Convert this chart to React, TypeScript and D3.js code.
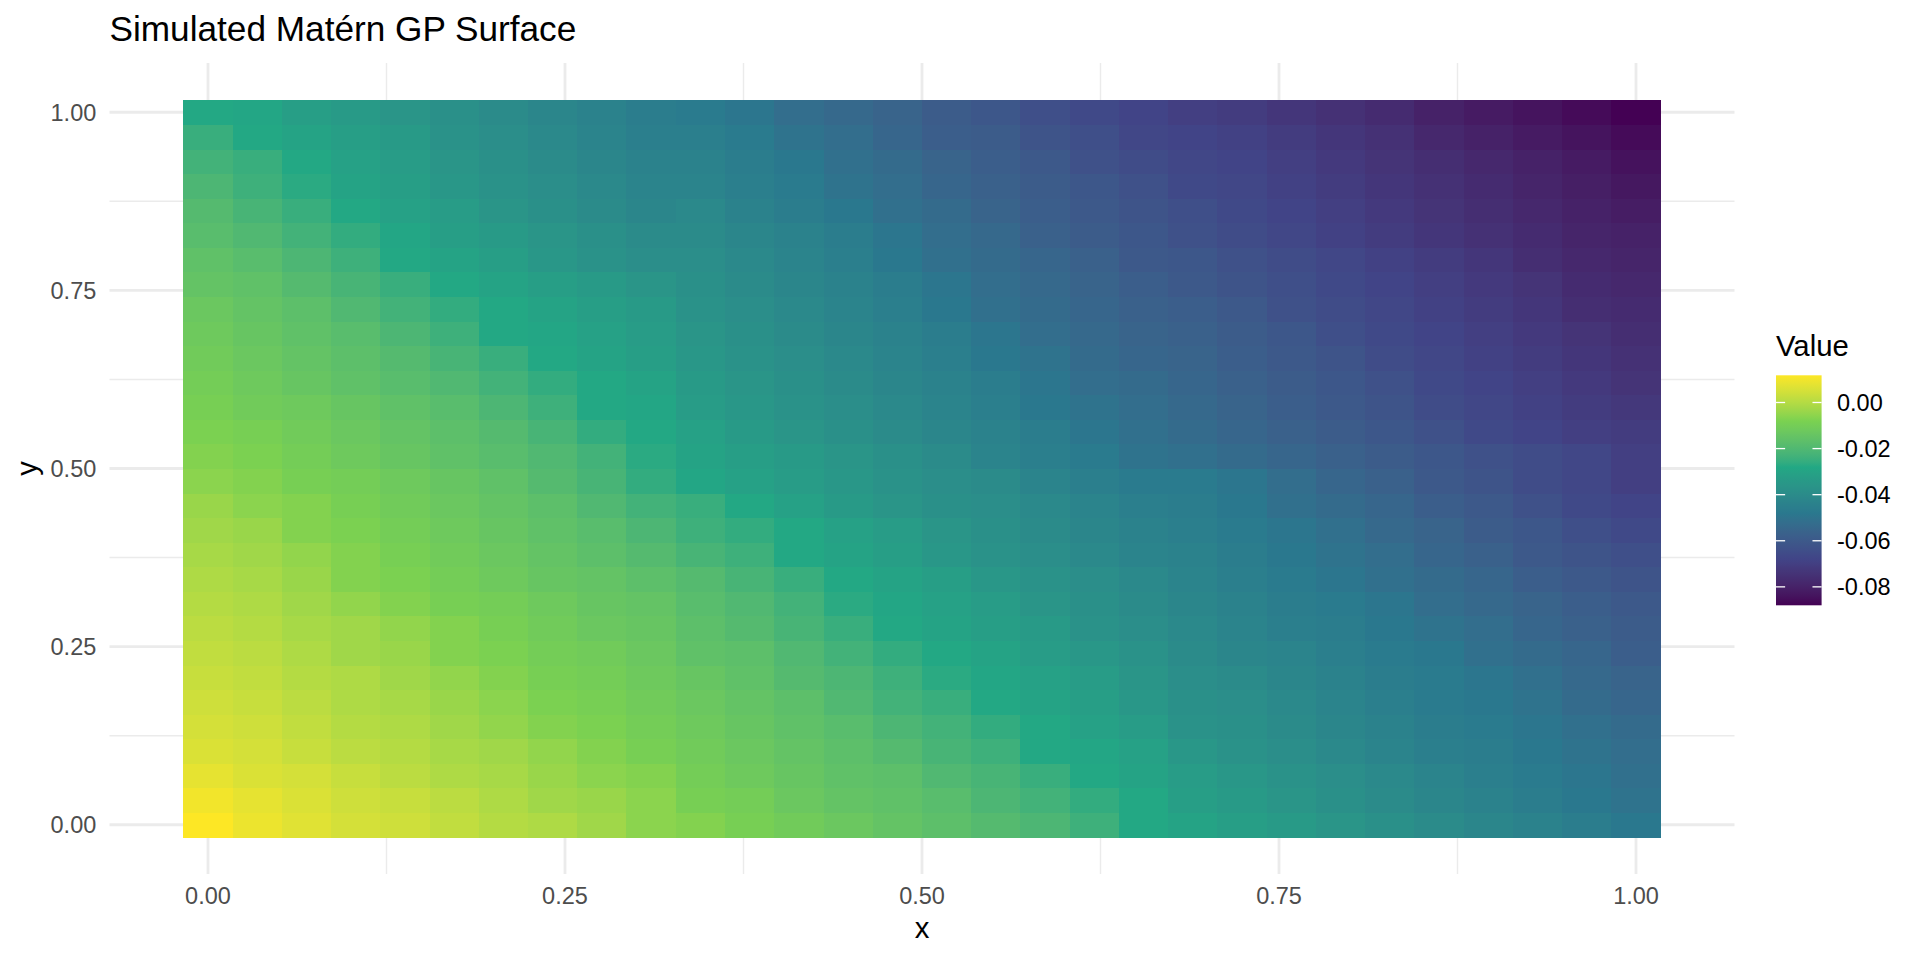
import * as d3 from "d3";

// grid coordinates (30 x 30 simulation grid on the unit square)
const xGrid = [
  0, 0.0345, 0.069, 0.1034, 0.1379, 0.1724, 0.2069, 0.2414, 0.2759, 0.3103,
  0.3448, 0.3793, 0.4138, 0.4483, 0.4828, 0.5172, 0.5517, 0.5862, 0.6207, 0.6552,
  0.6897, 0.7241, 0.7586, 0.7931, 0.8276, 0.8621, 0.8966, 0.931, 0.9655, 1,
];
const yGrid = xGrid.slice();

// simulated field, one array per y row (row00 = bottom, y = 0)
const row00 = [0.0118, 0.009, 0.007, 0.005, 0.004, 0.002, 0, -0.001, -0.003, -0.006, -0.007, -0.009, -0.011, -0.013, -0.015, -0.017, -0.019, -0.021, -0.024, -0.028, -0.03, -0.032, -0.034, -0.036, -0.038, -0.04, -0.042, -0.044, -0.046, -0.048];
const row01 = [0.01, 0.008, 0.006, 0.004, 0.003, 0.001, -0.001, -0.003, -0.004, -0.006, -0.009, -0.01, -0.013, -0.015, -0.016, -0.018, -0.021, -0.023, -0.026, -0.028, -0.032, -0.034, -0.036, -0.038, -0.04, -0.042, -0.044, -0.046, -0.048, -0.05];
const row02 = [0.008, 0.006, 0.005, 0.003, 0.001, -0.001, -0.002, -0.004, -0.006, -0.007, -0.01, -0.012, -0.014, -0.016, -0.017, -0.02, -0.022, -0.025, -0.028, -0.03, -0.033, -0.035, -0.037, -0.039, -0.041, -0.043, -0.045, -0.047, -0.049, -0.051];
const row03 = [0.006, 0.005, 0.003, 0.001, 0, -0.002, -0.003, -0.005, -0.007, -0.009, -0.011, -0.013, -0.015, -0.017, -0.019, -0.022, -0.024, -0.028, -0.029, -0.031, -0.035, -0.037, -0.039, -0.041, -0.043, -0.045, -0.046, -0.048, -0.05, -0.052];
const row04 = [0.005, 0.004, 0.002, 0, -0.001, -0.003, -0.005, -0.007, -0.008, -0.01, -0.012, -0.014, -0.016, -0.018, -0.021, -0.023, -0.026, -0.028, -0.031, -0.033, -0.037, -0.038, -0.04, -0.042, -0.044, -0.046, -0.047, -0.049, -0.051, -0.053];
const row05 = [0.004, 0.003, 0.001, -0.001, -0.002, -0.004, -0.006, -0.008, -0.009, -0.011, -0.013, -0.015, -0.017, -0.02, -0.023, -0.025, -0.028, -0.03, -0.032, -0.035, -0.038, -0.039, -0.041, -0.043, -0.045, -0.047, -0.048, -0.05, -0.053, -0.055];
const row06 = [0.003, 0.002, 0, -0.001, -0.003, -0.005, -0.007, -0.009, -0.01, -0.012, -0.014, -0.016, -0.019, -0.021, -0.024, -0.027, -0.029, -0.031, -0.033, -0.036, -0.039, -0.04, -0.042, -0.044, -0.046, -0.047, -0.049, -0.051, -0.054, -0.056];
const row07 = [0.002, 0.001, -0.001, -0.003, -0.004, -0.007, -0.008, -0.01, -0.011, -0.013, -0.016, -0.017, -0.02, -0.023, -0.026, -0.028, -0.03, -0.033, -0.035, -0.037, -0.04, -0.042, -0.043, -0.045, -0.047, -0.048, -0.051, -0.053, -0.055, -0.058];
const row08 = [0.001, 0, -0.002, -0.003, -0.005, -0.007, -0.009, -0.011, -0.013, -0.014, -0.017, -0.019, -0.022, -0.025, -0.028, -0.03, -0.032, -0.034, -0.037, -0.039, -0.041, -0.043, -0.045, -0.046, -0.048, -0.05, -0.052, -0.055, -0.057, -0.059];
const row09 = [0, -0.001, -0.003, -0.005, -0.007, -0.009, -0.01, -0.012, -0.014, -0.015, -0.018, -0.02, -0.023, -0.027, -0.029, -0.031, -0.033, -0.036, -0.038, -0.04, -0.042, -0.044, -0.046, -0.047, -0.049, -0.052, -0.054, -0.056, -0.058, -0.06];
const row10 = [-0.001, -0.002, -0.004, -0.007, -0.008, -0.01, -0.012, -0.014, -0.015, -0.017, -0.019, -0.022, -0.025, -0.028, -0.03, -0.032, -0.035, -0.037, -0.039, -0.041, -0.043, -0.045, -0.047, -0.049, -0.051, -0.053, -0.055, -0.058, -0.06, -0.062];
const row11 = [-0.002, -0.003, -0.005, -0.007, -0.009, -0.011, -0.013, -0.015, -0.017, -0.019, -0.022, -0.024, -0.028, -0.03, -0.032, -0.035, -0.037, -0.039, -0.041, -0.043, -0.044, -0.046, -0.048, -0.05, -0.052, -0.055, -0.057, -0.06, -0.062, -0.064];
const row12 = [-0.003, -0.004, -0.007, -0.008, -0.01, -0.012, -0.014, -0.016, -0.018, -0.021, -0.024, -0.026, -0.028, -0.031, -0.033, -0.036, -0.038, -0.04, -0.042, -0.044, -0.045, -0.047, -0.049, -0.051, -0.054, -0.056, -0.059, -0.061, -0.064, -0.066];
const row13 = [-0.004, -0.006, -0.007, -0.009, -0.011, -0.013, -0.015, -0.017, -0.02, -0.023, -0.025, -0.028, -0.031, -0.034, -0.036, -0.038, -0.039, -0.041, -0.043, -0.045, -0.046, -0.048, -0.051, -0.053, -0.055, -0.058, -0.06, -0.063, -0.066, -0.068];
const row14 = [-0.006, -0.007, -0.009, -0.01, -0.012, -0.014, -0.016, -0.019, -0.022, -0.026, -0.029, -0.031, -0.033, -0.035, -0.037, -0.039, -0.04, -0.043, -0.045, -0.047, -0.047, -0.049, -0.052, -0.055, -0.057, -0.06, -0.062, -0.065, -0.067, -0.07];
const row15 = [-0.007, -0.008, -0.01, -0.012, -0.014, -0.016, -0.018, -0.02, -0.023, -0.027, -0.03, -0.032, -0.034, -0.036, -0.038, -0.04, -0.043, -0.045, -0.047, -0.05, -0.051, -0.053, -0.055, -0.057, -0.059, -0.061, -0.063, -0.065, -0.067, -0.07];
const row16 = [-0.008, -0.009, -0.011, -0.013, -0.015, -0.017, -0.019, -0.022, -0.026, -0.028, -0.031, -0.034, -0.036, -0.038, -0.04, -0.042, -0.044, -0.046, -0.049, -0.051, -0.053, -0.055, -0.057, -0.059, -0.061, -0.063, -0.066, -0.068, -0.07, -0.071];
const row17 = [-0.009, -0.011, -0.012, -0.014, -0.016, -0.018, -0.021, -0.024, -0.028, -0.029, -0.033, -0.035, -0.037, -0.039, -0.041, -0.043, -0.045, -0.048, -0.05, -0.052, -0.054, -0.056, -0.058, -0.06, -0.062, -0.065, -0.067, -0.069, -0.071, -0.0725];
const row18 = [-0.01, -0.012, -0.014, -0.016, -0.018, -0.02, -0.023, -0.026, -0.028, -0.03, -0.034, -0.036, -0.038, -0.04, -0.042, -0.044, -0.046, -0.049, -0.052, -0.053, -0.055, -0.057, -0.059, -0.061, -0.063, -0.066, -0.068, -0.07, -0.072, -0.074];
const row19 = [-0.011, -0.013, -0.015, -0.017, -0.019, -0.022, -0.025, -0.028, -0.03, -0.032, -0.035, -0.037, -0.039, -0.041, -0.043, -0.045, -0.048, -0.05, -0.053, -0.055, -0.056, -0.058, -0.06, -0.062, -0.065, -0.067, -0.069, -0.071, -0.073, -0.075];
const row20 = [-0.012, -0.014, -0.016, -0.018, -0.021, -0.024, -0.028, -0.029, -0.031, -0.033, -0.036, -0.038, -0.04, -0.042, -0.044, -0.046, -0.049, -0.052, -0.054, -0.056, -0.057, -0.059, -0.061, -0.064, -0.066, -0.068, -0.07, -0.072, -0.074, -0.076];
const row21 = [-0.013, -0.015, -0.017, -0.02, -0.023, -0.026, -0.028, -0.03, -0.032, -0.034, -0.037, -0.039, -0.041, -0.043, -0.045, -0.048, -0.051, -0.053, -0.055, -0.057, -0.058, -0.06, -0.063, -0.065, -0.067, -0.069, -0.071, -0.073, -0.076, -0.077];
const row22 = [-0.015, -0.016, -0.019, -0.022, -0.025, -0.028, -0.03, -0.032, -0.034, -0.036, -0.038, -0.04, -0.042, -0.044, -0.046, -0.049, -0.052, -0.054, -0.056, -0.058, -0.06, -0.062, -0.064, -0.066, -0.068, -0.07, -0.072, -0.074, -0.077, -0.078];
const row23 = [-0.016, -0.018, -0.021, -0.024, -0.028, -0.03, -0.032, -0.035, -0.037, -0.039, -0.039, -0.041, -0.043, -0.045, -0.048, -0.051, -0.053, -0.055, -0.057, -0.06, -0.061, -0.063, -0.065, -0.067, -0.069, -0.071, -0.073, -0.076, -0.078, -0.079];
const row24 = [-0.018, -0.02, -0.023, -0.026, -0.029, -0.032, -0.034, -0.036, -0.038, -0.04, -0.04, -0.042, -0.044, -0.046, -0.049, -0.052, -0.054, -0.057, -0.059, -0.061, -0.063, -0.065, -0.067, -0.069, -0.071, -0.073, -0.075, -0.077, -0.079, -0.08];
const row25 = [-0.019, -0.022, -0.025, -0.028, -0.031, -0.033, -0.036, -0.038, -0.04, -0.042, -0.041, -0.044, -0.046, -0.048, -0.051, -0.053, -0.056, -0.058, -0.06, -0.062, -0.064, -0.066, -0.068, -0.07, -0.072, -0.074, -0.076, -0.078, -0.08, -0.0815];
const row26 = [-0.021, -0.024, -0.027, -0.03, -0.032, -0.035, -0.037, -0.039, -0.041, -0.043, -0.043, -0.045, -0.047, -0.05, -0.052, -0.055, -0.057, -0.059, -0.061, -0.063, -0.066, -0.067, -0.069, -0.071, -0.073, -0.075, -0.077, -0.079, -0.081, -0.083];
const row27 = [-0.023, -0.025, -0.028, -0.031, -0.033, -0.036, -0.038, -0.04, -0.042, -0.044, -0.044, -0.046, -0.048, -0.051, -0.053, -0.056, -0.058, -0.06, -0.063, -0.065, -0.067, -0.068, -0.07, -0.072, -0.074, -0.076, -0.078, -0.08, -0.082, -0.0845];
const row28 = [-0.025, -0.028, -0.03, -0.032, -0.034, -0.037, -0.039, -0.041, -0.043, -0.045, -0.045, -0.047, -0.05, -0.052, -0.055, -0.058, -0.059, -0.062, -0.064, -0.067, -0.068, -0.069, -0.071, -0.073, -0.075, -0.078, -0.08, -0.082, -0.084, -0.086];
const row29 = [-0.028, -0.029, -0.032, -0.034, -0.036, -0.038, -0.04, -0.042, -0.044, -0.046, -0.047, -0.049, -0.052, -0.054, -0.056, -0.059, -0.061, -0.064, -0.066, -0.068, -0.07, -0.071, -0.073, -0.075, -0.077, -0.08, -0.082, -0.084, -0.086, -0.088];

const zRows = [
  row00, row01, row02, row03, row04, row05, row06, row07, row08, row09,
  row10, row11, row12, row13, row14, row15, row16, row17, row18, row19,
  row20, row21, row22, row23, row24, row25, row26, row27, row28, row29,
];

const axisBreaks = [0, 0.25, 0.5, 0.75, 1];
const axisMinor = [0.125, 0.375, 0.625, 0.875];
const legendBreaks = [0, -0.02, -0.04, -0.06, -0.08];
const viridis6 = ["#440154", "#414487", "#2A788E", "#22A884", "#7AD151", "#FDE725"];

const FONT = "'Liberation Sans', Arial, Helvetica, sans-serif";

const App = () => {
  const width = 1920;
  const height = 960;
  const panel = { left: 109.5, right: 1734.5, top: 63.1, bottom: 873.9 };

  const cells = zRows.flatMap((row, j) =>
    row.map((z, i) => ({ x: xGrid[i], y: yGrid[j], z }))
  );

  const dx = xGrid[1] - xGrid[0];
  const dy = yGrid[1] - yGrid[0];
  const xLo = d3.min(xGrid)! - dx / 2;
  const xHi = d3.max(xGrid)! + dx / 2;
  const yLo = d3.min(yGrid)! - dy / 2;
  const yHi = d3.max(yGrid)! + dy / 2;
  const xPad = (xHi - xLo) * 0.05;
  const yPad = (yHi - yLo) * 0.05;

  const xScale = d3
    .scaleLinear()
    .domain([xLo - xPad, xHi + xPad])
    .range([panel.left, panel.right]);
  const yScale = d3
    .scaleLinear()
    .domain([yLo - yPad, yHi + yPad])
    .range([panel.bottom, panel.top]);

  const [zMin, zMax] = d3.extent(cells, (d) => d.z) as [number, number];
  const colorScale = d3
    .scaleLinear<string>()
    .domain(viridis6.map((_, i) => zMin + (i * (zMax - zMin)) / (viridis6.length - 1)))
    .range(viridis6)
    .interpolate(d3.interpolateLab);

  // legend colour bar
  const bar = { x: 1776, y: 375.3, w: 45.6, h: 230 };
  const legendScale = d3.scaleLinear().domain([zMin, zMax]).range([bar.y + bar.h, bar.y]);
  const gradStops = d3.range(0, 1.0001, 0.02);

  const midX = (panel.left + panel.right) / 2;
  const midY = (panel.top + panel.bottom) / 2;

  return (
    <div style={{ position: "absolute", left: 0, top: 0 }}>
      <svg width={width} height={height} style={{ display: "block", background: "#fff" }}>
        <defs>
          <linearGradient id="valueGrad" x1="0" y1="1" x2="0" y2="0">
            {gradStops.map((t) => (
              <stop
                key={t}
                offset={`${t * 100}%`}
                stopColor={colorScale(zMin + t * (zMax - zMin))}
              />
            ))}
          </linearGradient>
        </defs>

        {/* grid */}
        {axisMinor.map((v) => (
          <g key={`m${v}`} stroke="#EBEBEB" strokeWidth={1.4}>
            <line x1={xScale(v)} x2={xScale(v)} y1={panel.top} y2={panel.bottom} />
            <line x1={panel.left} x2={panel.right} y1={yScale(v)} y2={yScale(v)} />
          </g>
        ))}
        {axisBreaks.map((v) => (
          <g key={`M${v}`} stroke="#EBEBEB" strokeWidth={2.8}>
            <line x1={xScale(v)} x2={xScale(v)} y1={panel.top} y2={panel.bottom} />
            <line x1={panel.left} x2={panel.right} y1={yScale(v)} y2={yScale(v)} />
          </g>
        ))}

        {/* tiles */}
        <g shapeRendering="crispEdges">
          {cells.map((d, k) => {
            const x0 = xScale(d.x - dx / 2);
            const x1 = xScale(d.x + dx / 2);
            const y0 = yScale(d.y + dy / 2);
            const y1 = yScale(d.y - dy / 2);
            return (
              <rect
                key={k}
                x={x0}
                y={y0}
                width={x1 - x0 + 0.5}
                height={y1 - y0 + 0.5}
                fill={colorScale(d.z)}
              />
            );
          })}
        </g>

        {/* axes text */}
        <g fontFamily={FONT} fontSize={23.5} fill="#4D4D4D">
          {axisBreaks.map((v) => (
            <text key={`yl${v}`} x={panel.left - 13.2} y={yScale(v)} dy="0.36em" textAnchor="end">
              {v.toFixed(2)}
            </text>
          ))}
          {axisBreaks.map((v) => (
            <text key={`xl${v}`} x={xScale(v)} y={904} textAnchor="middle">
              {v.toFixed(2)}
            </text>
          ))}
        </g>
        <text x={midX} y={938} textAnchor="middle" fontFamily={FONT} fontSize={29.3} fill="#000">
          x
        </text>
        <text
          transform={`translate(36.5,${midY}) rotate(-90)`}
          textAnchor="middle"
          fontFamily={FONT}
          fontSize={29.3}
          fill="#000"
        >
          y
        </text>

        {/* title */}
        <text x={panel.left} y={41} fontFamily={FONT} fontSize={35.2} fill="#000">
          Simulated Matérn GP Surface
        </text>

        {/* legend */}
        <text x={bar.x} y={356} fontFamily={FONT} fontSize={29.3} fill="#000">
          Value
        </text>
        <rect x={bar.x} y={bar.y} width={bar.w} height={bar.h} fill="url(#valueGrad)" />
        {legendBreaks.map((v) => (
          <g key={`lt${v}`} stroke="#fff" strokeWidth={1.3}>
            <line x1={bar.x} x2={bar.x + bar.w * 0.2} y1={legendScale(v)} y2={legendScale(v)} />
            <line
              x1={bar.x + bar.w * 0.8}
              x2={bar.x + bar.w}
              y1={legendScale(v)}
              y2={legendScale(v)}
            />
          </g>
        ))}
        <g fontFamily={FONT} fontSize={23.5} fill="#000">
          {legendBreaks.map((v) => (
            <text key={`ll${v}`} x={1837} y={legendScale(v)} dy="0.36em">
              {v.toFixed(2)}
            </text>
          ))}
        </g>
      </svg>
    </div>
  );
};

export default App;
